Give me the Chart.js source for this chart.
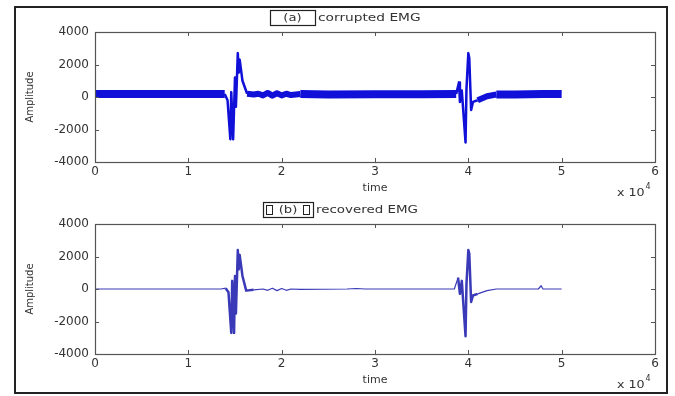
<!DOCTYPE html>
<html>
<head>
<meta charset="utf-8">
<script src="https://cdn.jsdelivr.net/npm/chart.js@4.4.1/dist/chart.umd.min.js"></script>
<style>
  html, body { margin: 0; padding: 0; background: #fff; }
  #frame {
    position: absolute; left: 14px; top: 6px;
    width: 650px; height: 384px;
    border: 2px solid #222;
  }
  #frame canvas { display: block; }
</style>
</head>
<body>
<div id="frame">
  <div style="position:relative;width:650px;height:192px"><canvas id="chartA"></canvas></div>
  <div style="position:relative;width:650px;height:192px"><canvas id="chartB"></canvas></div>
</div>
<script>
// time axis in samples (shown as x 10^4)
var xTicks = [0, 10000, 20000, 30000, 40000, 50000, 60000];
var yTicks = [-4000, -2000, 0, 2000, 4000];

// (a) corrupted EMG
var corruptX = [0, 5000, 10000, 13900, 14200, 14500, 14600, 14800, 15000, 15100, 15300, 15400, 15500, 15800, 16300,
                17000, 17500, 18000, 18500, 19000, 19500, 20000, 20500, 21000, 22000, 25000, 30000, 35000, 38700,
                39000, 39100, 39300, 39700, 39800, 40000, 40100, 40300, 40500, 41000, 42000, 43000, 45000, 48000, 50000];
var corruptY = [180, 180, 180, 180, -200, -2600, 300, -2600, 1200, -600, 2700, 1500, 2300, 1000, 200,
                150, 200, 100, 250, 80, 230, 100, 200, 120, 180, 160, 170, 170, 180,
                900, -300, 400, -2800, 500, 2700, 2400, -800, -300, -200, 50, 150, 160, 190, 180];

// (b) recovered EMG
var recoverX = [0, 13500, 14000, 14300, 14600, 14700, 14900, 15000, 15100, 15300, 15400, 15500, 15800, 16200,
                17000, 18000, 18500, 19000, 19500, 20000, 20500, 21000, 22000, 27000, 28000, 29000, 38500,
                38900, 39100, 39300, 39700, 39800, 40000, 40100, 40300, 40500, 41000, 42000, 43000,
                47500, 47800, 48000, 50000];
var recoverY = [0, 0, 50, -200, -2700, 500, -2700, 800, -1500, 2400, 1200, 2100, 800, -100,
                -50, 0, -80, 50, -100, 30, -80, 0, -20, 0, 30, 0, 0,
                700, -300, 500, -2900, 300, 2400, 2200, -800, -400, -300, -100, 0,
                0, 200, 0, 0];

function toPoints(xs, ys) {
    return xs.map(function (x, i) { return { x: x, y: ys[i] }; });
}

function inEvent(x) {
    return (x >= 13900 && x < 16300) || (x >= 38700 && x < 41000);
}
function quietBand(x) {
    return (x >= 16300 && x < 22000) || (x >= 41000 && x < 43000);
}

var FAM = '"DejaVu Sans", Verdana, sans-serif';
var FONT = { family: FAM, size: 12 };
var TXT = '#333';

// draw text squeezed out wider, the source image is stretched sideways
function wideText(c, str, x, y, sx) {
    c.save();
    c.translate(x, y);
    c.scale(sx, 1);
    c.fillText(str, 0, 0);
    c.restore();
    return c.measureText(str).width * sx;
}

var framePlugin = {
    id: 'matlabFrame',
    afterDraw: function (chart) {
        var c = chart.ctx, a = chart.chartArea;
        var xs = chart.scales.x, ys = chart.scales.y;
        var o = chart.options.plugins.matlabFrame;
        c.save();
        c.strokeStyle = '#555';
        c.lineWidth = 1.2;
        c.strokeRect(Math.round(a.left) + 0.5, Math.round(a.top) + 0.5,
                     Math.round(a.right - a.left), Math.round(a.bottom - a.top));
        c.lineWidth = 1;
        c.beginPath();
        xTicks.forEach(function (v) {
            var px = Math.round(xs.getPixelForValue(v)) + 0.5;
            c.moveTo(px, a.bottom); c.lineTo(px, a.bottom - 4);
            c.moveTo(px, a.top); c.lineTo(px, a.top + 4);
        });
        yTicks.forEach(function (v) {
            var py = Math.round(ys.getPixelForValue(v)) + 0.5;
            c.moveTo(a.left, py); c.lineTo(a.left + 4, py);
            c.moveTo(a.right, py); c.lineTo(a.right - 4, py);
        });
        c.stroke();

        // title with boxed label
        c.font = '11px ' + FAM;
        c.fillStyle = TXT;
        c.textBaseline = 'middle';
        c.textAlign = 'left';
        var tx = a.left + o.titleOffset, ty = a.top - 14;
        var lw = c.measureText(o.label).width * 1.2;
        var bw = o.boxWidth;
        wideText(c, o.label, tx + (bw - lw) / 2, ty, 1.2);
        c.strokeStyle = '#222';
        c.lineWidth = 1.2;
        c.strokeRect(tx + 0.5, ty - 7.5, bw, 15);
        if (o.inner) {
            c.lineWidth = 1;
            c.strokeRect(tx + 3.5, ty - 4.5, 6, 9);
            c.strokeRect(tx + bw - 9.5, ty - 4.5, 6, 9);
        }
        wideText(c, o.text, tx + bw + 3, ty, o.textScale);

        // exponent label
        c.font = '11px ' + FAM;
        var ew = wideText(c, 'x 10', 601, a.bottom + 31, 1.15);
        c.font = '8px ' + FAM;
        c.fillText('4', 601 + ew + 1, a.bottom + 25);
        c.restore();
    }
};

function makeChart(id, xs, ys, color, thick, thin, quiet, title) {
    return new Chart(document.getElementById(id), {
        type: 'line',
        data: {
            datasets: [{
                data: toPoints(xs, ys),
                borderColor: color,
                borderWidth: thick,
                borderJoinStyle: 'round',
                pointRadius: 0,
                tension: 0,
                segment: {
                    borderWidth: function (ctx) {
                        var x = ctx.p0.parsed.x;
                        if (inEvent(x)) return thin;
                        if (quietBand(x)) return quiet;
                        return thick;
                    }
                }
            }]
        },
        options: {
            responsive: true,
            maintainAspectRatio: false,
            animation: false,
            layout: { padding: { top: 24, right: 11, left: 0, bottom: 0 } },
            plugins: {
                legend: { display: false },
                tooltip: { enabled: false },
                matlabFrame: title
            },
            scales: {
                x: {
                    type: 'linear', min: 0, max: 60000,
                    afterBuildTicks: function (s) { s.ticks = xTicks.map(function (v) { return { value: v }; }); },
                    afterFit: function (s) { s.height = 38; },
                    grid: { display: false, drawTicks: false },
                    border: { display: false },
                    ticks: { padding: 3, color: TXT, font: FONT,
                             callback: function (v) { return String(v / 10000); } },
                    title: { display: true, text: 'time', color: TXT, font: { family: FAM, size: 11 },
                             padding: { top: 0, bottom: 5 } }
                },
                y: {
                    min: -4000, max: 4000,
                    afterBuildTicks: function (s) { s.ticks = yTicks.map(function (v) { return { value: v }; }); },
                    afterFit: function (s) { s.width = 79; },
                    grid: { display: false, drawTicks: false },
                    border: { display: false },
                    ticks: { padding: 6, color: TXT, font: FONT,
                             callback: function (v) { return String(v); } },
                    title: { display: true, text: 'Amplitude', color: TXT, font: { family: FAM, size: 10 },
                             padding: { top: 8, bottom: 0 } }
                }
            }
        },
        plugins: [framePlugin]
    });
}

makeChart('chartA', corruptX, corruptY, '#1010d8', 8, 2.5, 6,
          { label: '(a)', text: 'corrupted EMG', titleOffset: 175, boxWidth: 45, inner: false, textScale: 1.25 });
makeChart('chartB', recoverX, recoverY, '#3a3ab8', 1.2, 2.5, 1.2,
          { label: '(b)', text: 'recovered EMG', titleOffset: 168, boxWidth: 50, inner: true, textScale: 1.22 });
</script>
</body>
</html>
